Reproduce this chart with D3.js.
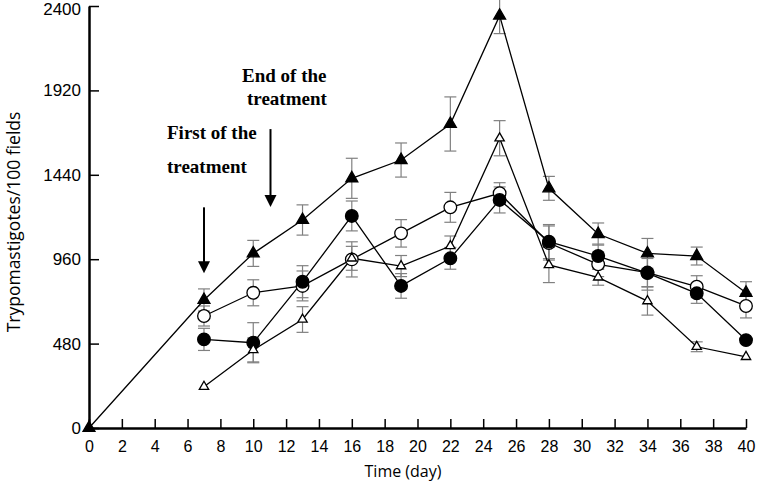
<!DOCTYPE html>
<html><head><meta charset="utf-8">
<script src="https://cdn.jsdelivr.net/npm/d3@7/dist/d3.min.js"></script>
<style>body{margin:0;background:#fff}svg{display:block}</style>
</head><body>
<script>
const days = [7,10,13,16,19,22,25,28,31,34,37,40];
const filledTriDays = [0,7,10,13,16,19,22,25,28,31,34,37,40];
const filledTri    = [0,728,993,1183,1420,1524,1729,2345,1363,1103,993,978,769];
const filledTriErr = [0,63,74,86,114,97,154,102,68,63,85,51,63];
const openCircle    = [637,769,808,959,1107,1255,1335,1052,931,884,804,694];
const openCircleErr = [57,74,85,100,78,85,60,97,70,80,62,68];
const filledCircle    = [504,485,832,1206,808,965,1297,1060,978,881,766,500];
const filledCircleErr = [63,114,91,85,70,62,74,97,68,97,57,0];
const openTri    = [235,444,617,965,921,1035,1648,927,857,722,462,405];
const openTriErr = [0,68,73,68,60,57,100,100,45,80,28,0];
const xTicks = d3.range(0,41,2);
const yTicks = [0,480,960,1440,1920,2400];

const W=757,H=484;
const svg=d3.select("body").append("svg").attr("width",W).attr("height",H);
const x=d3.scaleLinear().domain([0,40]).range([89,746]);
const y=d3.scaleLinear().domain([0,2400]).range([428,6]);

const series=[
 {d:filledTriDays,v:filledTri,e:filledTriErr,sym:d3.symbolTriangle,size:62,fill:"#000"},
 {d:days,v:openCircle,e:openCircleErr,sym:d3.symbolCircle,size:125,fill:"#fff"},
 {d:days,v:filledCircle,e:filledCircleErr,sym:d3.symbolCircle,size:125,fill:"#000"},
 {d:days,v:openTri,e:openTriErr,sym:d3.symbolTriangle,size:38,fill:"#fff"}
];

// error bars
const eb=svg.append("g").attr("stroke","#808080").attr("stroke-width",1.2);
series.forEach(s=>{
  s.d.forEach((dd,i)=>{
    if(!s.e[i]) return;
    const cx=x(dd),y1=y(s.v[i]+s.e[i]),y2=y(s.v[i]-s.e[i]);
    eb.append("line").attr("x1",cx).attr("x2",cx).attr("y1",y1).attr("y2",y2);
    eb.append("line").attr("x1",cx-6).attr("x2",cx+6).attr("y1",y1).attr("y2",y1);
    eb.append("line").attr("x1",cx-6).attr("x2",cx+6).attr("y1",y2).attr("y2",y2);
  });
});
// lines
const line=d3.line().x(p=>x(p[0])).y(p=>y(p[1]));
series.forEach(s=>{
  svg.append("path").attr("d",line(s.d.map((dd,i)=>[dd,s.v[i]])))
    .attr("fill","none").attr("stroke","#000").attr("stroke-width",1.3);
});

// axes
const gx=svg.append("g").attr("transform","translate(0,428)")
  .call(d3.axisTop(x).tickValues(xTicks).tickSize(9).tickSizeOuter(0).tickFormat(d3.format("d")));
gx.select(".domain").attr("stroke-width",2.5);
gx.selectAll(".tick line").attr("stroke-width",1.5);
gx.selectAll(".tick text").attr("y",13).attr("dy","0.71em").attr("font-family","Liberation Sans, Arial, sans-serif").attr("font-size",16).attr("fill","#000");
const gy=svg.append("g").attr("transform","translate(89,0)")
  .call(d3.axisRight(y).tickValues(yTicks).tickSize(10).tickSizeOuter(0).tickFormat(d3.format("d")));
gy.select(".domain").attr("stroke-width",2.5);
gy.selectAll(".tick line").attr("stroke-width",1.5);
gy.selectAll(".tick text").attr("x",-8).attr("text-anchor","end").attr("font-family","Liberation Sans, Arial, sans-serif").attr("font-size",17).attr("fill","#000")
  .attr("dy",d=>d===2400?"0.5em":"0.32em");

// markers
series.forEach(s=>{
  svg.append("g").selectAll("path").data(s.d.map((dd,i)=>[dd,s.v[i]])).join("path")
    .attr("transform",p=>`translate(${x(p[0])},${y(p[1])})`)
    .attr("d",d3.symbol().type(s.sym).size(s.size))
    .attr("fill",s.fill).attr("stroke","#000").attr("stroke-width",1.3);
});

// axis titles
svg.append("text").attr("x",403).attr("y",477).attr("text-anchor","middle")
  .attr("font-family","Open Sans, sans-serif").attr("font-size",16).text("Time (day)");
svg.append("text").attr("transform","translate(20,222) rotate(-90)").attr("text-anchor","middle")
  .attr("font-family","Open Sans, sans-serif").attr("font-size",17.5).text("Trypomastigotes/100 fields");

// annotations
const ann=svg.append("g").attr("font-family","Liberation Serif, Times New Roman, serif").attr("font-weight","bold").attr("font-size",19);
ann.append("text").attr("x",242).attr("y",82).text("End of the");
ann.append("text").attr("x",247).attr("y",105).text("treatment");
ann.append("text").attr("x",167).attr("y",139).text("First of the");
ann.append("text").attr("x",167).attr("y",173).text("treatment");

function arrow(dx,v1,v2){
  const cx=x(dx),y1=y(v1),y2=y(v2);
  svg.append("line").attr("x1",cx).attr("x2",cx).attr("y1",y1).attr("y2",y2-10).attr("stroke","#000").attr("stroke-width",2);
  svg.append("path").attr("d",`M${cx-6},${y2-12}L${cx+6},${y2-12}L${cx},${y2}Z`).attr("fill","#000");
}
arrow(7,1255,880);
arrow(11.05,1700,1257);
</script>
</body></html>
